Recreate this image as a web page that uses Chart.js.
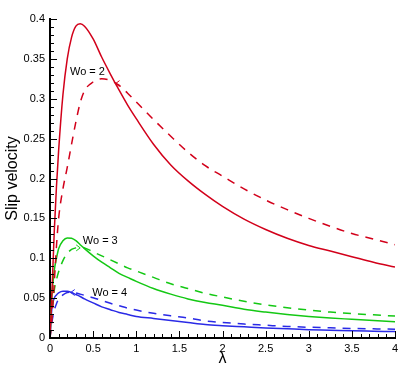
<!DOCTYPE html>
<html>
<head>
<meta charset="utf-8">
<script src="https://cdn.jsdelivr.net/npm/chart.js@4/dist/chart.umd.min.js"></script>
<style>
  html, body { margin: 0; padding: 0; background: #fff; }
  #wrap { width: 415px; height: 369px; }
</style>
</head>
<body>
<div id="wrap"><canvas id="c" width="415" height="369"></canvas></div>
<script>
// λ sample points shared by all series
const lambda = [0, 0.02, 0.05, 0.075, 0.1, 0.15, 0.2, 0.25, 0.3, 0.35, 0.4, 0.5, 0.6, 0.7, 0.8, 0.9, 1.0, 1.2, 1.4, 1.6, 1.8, 2.0, 2.25, 2.5, 2.75, 3.0, 3.25, 3.5, 3.75, 4.0];

// Wo = 2 (red)
const wo2Solid  = [0, 0.05, 0.135, 0.19, 0.235, 0.305, 0.35, 0.377, 0.391, 0.394, 0.391, 0.375, 0.352, 0.331, 0.311, 0.292, 0.275, 0.243, 0.217, 0.197, 0.18, 0.165, 0.149, 0.136, 0.125, 0.116, 0.109, 0.102, 0.095, 0.089];
const wo2Dashed = [0, 0.02, 0.07, 0.115, 0.15, 0.187, 0.214, 0.243, 0.271, 0.295, 0.31, 0.321, 0.325, 0.323, 0.317, 0.307, 0.296, 0.274, 0.253, 0.233, 0.216, 0.203, 0.187, 0.173, 0.161, 0.15, 0.14, 0.131, 0.124, 0.117];

// Wo = 3 (green)
const wo3Solid  = [0, 0.05, 0.085, 0.1, 0.112, 0.122, 0.1255, 0.125, 0.122, 0.117, 0.112, 0.103, 0.095, 0.088, 0.081, 0.076, 0.071, 0.062, 0.055, 0.049, 0.0445, 0.041, 0.036, 0.0325, 0.0295, 0.027, 0.025, 0.0235, 0.022, 0.0205];
const wo3Dashed = [0, 0.03, 0.06, 0.073, 0.083, 0.097, 0.106, 0.111, 0.113, 0.1135, 0.113, 0.108, 0.103, 0.098, 0.093, 0.088, 0.084, 0.076, 0.068, 0.062, 0.056, 0.0515, 0.046, 0.0415, 0.038, 0.035, 0.0325, 0.0305, 0.029, 0.0275];

// Wo = 4 (blue)
const wo4Solid  = [0, 0.035, 0.05, 0.054, 0.0565, 0.0585, 0.0585, 0.057, 0.0545, 0.052, 0.049, 0.044, 0.039, 0.0355, 0.032, 0.0295, 0.027, 0.0245, 0.022, 0.0195, 0.017, 0.0155, 0.014, 0.0125, 0.0115, 0.0105, 0.0098, 0.009, 0.0085, 0.008];
const wo4Dashed = [0, 0.018, 0.035, 0.043, 0.049, 0.054, 0.057, 0.0575, 0.0565, 0.055, 0.0535, 0.0505, 0.047, 0.0435, 0.0405, 0.0375, 0.035, 0.031, 0.0278, 0.025, 0.0215, 0.0195, 0.0175, 0.016, 0.0145, 0.0135, 0.0127, 0.012, 0.0115, 0.011];

// axis ticks
const xTickValues = [0, 0.5, 1, 1.5, 2, 2.5, 3, 3.5, 4];
const yTickValues = [0, 0.05, 0.1, 0.15, 0.2, 0.25, 0.3, 0.35, 0.4];
const xTickLabels = ['0', '0.5', '1', '1.5', '2', '2.5', '3', '3.5', '4'];
const yTickLabels = ['0', '0.05', '0.1', '0.15', '0.2', '0.25', '0.3', '0.35', '0.4'];

// annotation labels
const labelTexts = ['Wo = 2', 'Wo = 3', 'Wo = 4'];

const RED = '#d2001a', GREEN = '#14c814', BLUE = '#2a2ae6';
const FONT = '"Liberation Sans", Arial, sans-serif';

function pts(ys) { return lambda.map((x, i) => ({ x: x, y: ys[i] })); }
function ds(ys, color, dashed) {
  return {
    data: pts(ys), borderColor: color, borderWidth: 1.5,
    borderDash: dashed ? [8, 7] : [], pointRadius: 0,
    cubicInterpolationMode: 'monotone', fill: false
  };
}

const tickMarks = {
  id: 'tickMarks',
  afterDraw(chart) {
    const ctx = chart.ctx, xs = chart.scales.x, ys = chart.scales.y;
    const ca = chart.chartArea;
    ctx.save();
    ctx.strokeStyle = '#000';
    ctx.lineWidth = 1;
    for (let i = 0; i <= 40; i++) {
      const px = Math.round(xs.getPixelForValue(i * 0.1)) + 0.5;
      const len = (i % 5 === 0) ? 7 : 4;
      ctx.beginPath(); ctx.moveTo(px, ca.bottom); ctx.lineTo(px, ca.bottom - len); ctx.stroke();
    }
    for (let i = 0; i <= 40; i++) {
      const py = Math.round(ys.getPixelForValue(i * 0.01)) + 0.5;
      const len = (i % 5 === 0) ? 7 : 4;
      ctx.beginPath(); ctx.moveTo(ca.left, py); ctx.lineTo(ca.left + len, py); ctx.stroke();
    }
    // annotation labels (anchored in data coordinates)
    const anchors = [[0.232, 0.3335], [0.38, 0.1216], [0.49, 0.0568]];
    ctx.fillStyle = '#000';
    ctx.font = '11px ' + FONT;
    ctx.textBaseline = 'middle';
    ctx.textAlign = 'left';
    anchors.forEach((a, i) => {
      ctx.fillText(labelTexts[i], xs.getPixelForValue(a[0]), ys.getPixelForValue(a[1]));
    });
    // small arrowheads
    const heads = [[0.76, 0.319, -1, RED], [0.35, 0.113, 1, GREEN], [0.24, 0.057, -1, BLUE]];
    heads.forEach(h => {
      const hx = xs.getPixelForValue(h[0]), hy = ys.getPixelForValue(h[1]);
      ctx.strokeStyle = h[3]; ctx.lineWidth = 1;
      ctx.beginPath();
      ctx.moveTo(hx - h[2] * 4, hy - 3); ctx.lineTo(hx, hy); ctx.lineTo(hx - h[2] * 4, hy + 3);
      ctx.stroke();
    });
    ctx.restore();
  }
};

new Chart(document.getElementById('c'), {
  type: 'line',
  data: {
    datasets: [
      ds(wo2Solid, RED, false), ds(wo2Dashed, RED, true),
      ds(wo3Solid, GREEN, false), ds(wo3Dashed, GREEN, true),
      ds(wo4Solid, BLUE, false), ds(wo4Dashed, BLUE, true)
    ]
  },
  options: {
    responsive: false,
    animation: false,
    layout: { padding: { left: 0, top: 19, right: 20, bottom: 0 } },
    plugins: { legend: { display: false }, tooltip: { enabled: false }, title: { display: false } },
    scales: {
      x: {
        type: 'linear', min: 0, max: 4,
        afterBuildTicks(s) { s.ticks = xTickValues.map(v => ({ value: v })); },
        afterFit(s) { s.height = 31; },
        grid: { display: false, drawTicks: false },
        border: { display: true, color: '#000', width: 2 },
        ticks: {
          padding: 4, color: '#000', font: { family: FONT, size: 11 },
          maxRotation: 0, autoSkip: false,
          callback(v) { const i = xTickValues.indexOf(v); return i >= 0 ? xTickLabels[i] : ''; }
        },
        title: { display: true, text: 'λ', color: '#000', font: { family: FONT, size: 16 }, padding: { top: 0, bottom: 1 } }
      },
      y: {
        type: 'linear', min: 0, max: 0.4,
        afterBuildTicks(s) { s.ticks = yTickValues.map(v => ({ value: v })); },
        afterFit(s) { s.width = 50; },
        grid: { display: false, drawTicks: false },
        border: { display: true, color: '#000', width: 2 },
        ticks: {
          padding: 5, color: '#000', font: { family: FONT, size: 11 }, autoSkip: false,
          callback(v) { const i = yTickValues.findIndex(t => Math.abs(t - v) < 1e-9); return i >= 0 ? yTickLabels[i] : ''; }
        },
        title: { display: true, text: 'Slip velocity', color: '#000', font: { family: FONT, size: 16 }, padding: { top: 3, bottom: 0 } }
      }
    }
  },
  plugins: [tickMarks]
});
</script>
</body>
</html>
